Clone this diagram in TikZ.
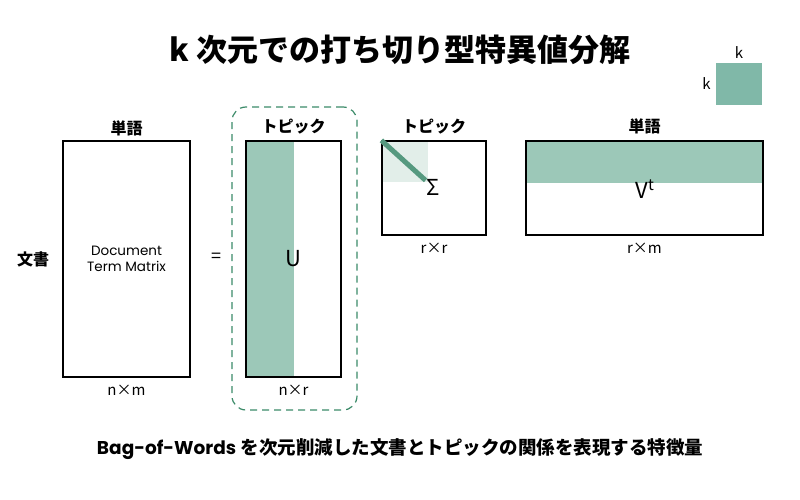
\documentclass[tikz,border=0pt]{standalone}
\usepackage{fontspec}
\setmainfont{Noto Sans CJK JP}
\newfontfamily\latinfont{Poppins}
\usepackage{xcolor}
\usetikzlibrary{positioning,calc}
\definecolor{matgreen}{HTML}{9CC8B8}
\definecolor{keygreen}{HTML}{80B8A8}
\definecolor{palegreen}{HTML}{E2EEE9}
\definecolor{diaggreen}{HTML}{55997F}
\definecolor{dashgreen}{HTML}{3A8A68}

\begin{document}
\begin{tikzpicture}[
    x=1pt, y=-1pt,
    mat/.style={rectangle, draw, line width=1.3pt, inner sep=0pt},
    halfleft/.style={path picture={\fill[matgreen] (path picture bounding box.north west) rectangle (path picture bounding box.south);}},
    uppertop/.style={path picture={\fill[matgreen] (path picture bounding box.north west) rectangle ($(path picture bounding box.north east)!0.45!(path picture bounding box.south east)$);}},
    lbl/.style={font=\fontsize{16}{18}\selectfont\bfseries, inner sep=1pt},
    dim/.style={font=\fontsize{15}{17}\selectfont, inner sep=1pt},
    sym/.style={font=\fontsize{22}{24}\selectfont, inner sep=0pt}
]
    \useasboundingbox (0,0) rectangle (800,500);
    \node[font=\fontsize{31}{34}\selectfont\bfseries] (title) at (400,50) {k 次元での打ち切り型特異値分解};

    % key square
    \node[fill=keygreen, minimum width=46pt, minimum height=42pt] (key) at (739,84) {};
    \node[dim, above=3pt of key] (keytop) {k};
    \node[dim, left=4pt of key] (keyleft) {k};

    % document term matrix
    \node[mat, minimum width=127pt, minimum height=236pt, align=center, font=\latinfont\fontsize{13.5}{16}\selectfont] (dtm) at (126.5,259) {Document\\Term Matrix};
    \node[lbl, above=3pt of dtm] (dtmtop) {単語};
    \node[lbl, left=12pt of dtm] (dtmleft) {文書};
    \node[dim, below=6pt of dtm] (dtmdim) {n×m};
    \node[font=\fontsize{18}{20}\selectfont] (eq) at (216,258) {=};

    % U
    \node[draw=dashgreen, dashed, dash pattern=on 7pt off 5pt, line width=1.2pt, rounded corners=14pt, minimum width=125pt, minimum height=303pt] (ubox) at (294.5,258.5) {};
    \node[mat, halfleft, minimum width=95pt, minimum height=236pt] (u) at (293.5,259) {};
    \node[sym] (ulabel) at (u) {U};
    \node[lbl, above=5pt of u] (utop) {トピック};
    \node[dim, below=6pt of u] (udim) {n×r};

    % Sigma
    \node[mat, minimum width=104pt, minimum height=94pt, path picture={\fill[palegreen] (path picture bounding box.north west) rectangle ($(path picture bounding box.north west)!0.44!(path picture bounding box.south east)$);}] (s) at (434,188) {};
    \draw[diaggreen, line width=5pt] (s.north west) -- ($(s.north west)!0.42!(s.south east)$);
    \node[sym] (slabel) at (433,187) {Σ};
    \node[lbl, above=5pt of s] (stop) {トピック};
    \node[dim, below=6pt of s] (sdim) {r×r};

    % V transposed
    \node[mat, uppertop, minimum width=237pt, minimum height=94pt] (v) at (644.5,188) {};
    \node[sym] (vlabel) at (645,189) {V$^{\mathrm{t}}$};
    \node[lbl, above=5pt of v] (vtop) {単語};
    \node[dim, below=6pt of v] (vdim) {r×m};

    \node[font=\fontsize{18.5}{21}\selectfont\bfseries] (caption) at (400,449) {{\latinfont Bag-of-Words} を次元削減した文書とトピックの関係を表現する特徴量};
\end{tikzpicture}
\end{document}
